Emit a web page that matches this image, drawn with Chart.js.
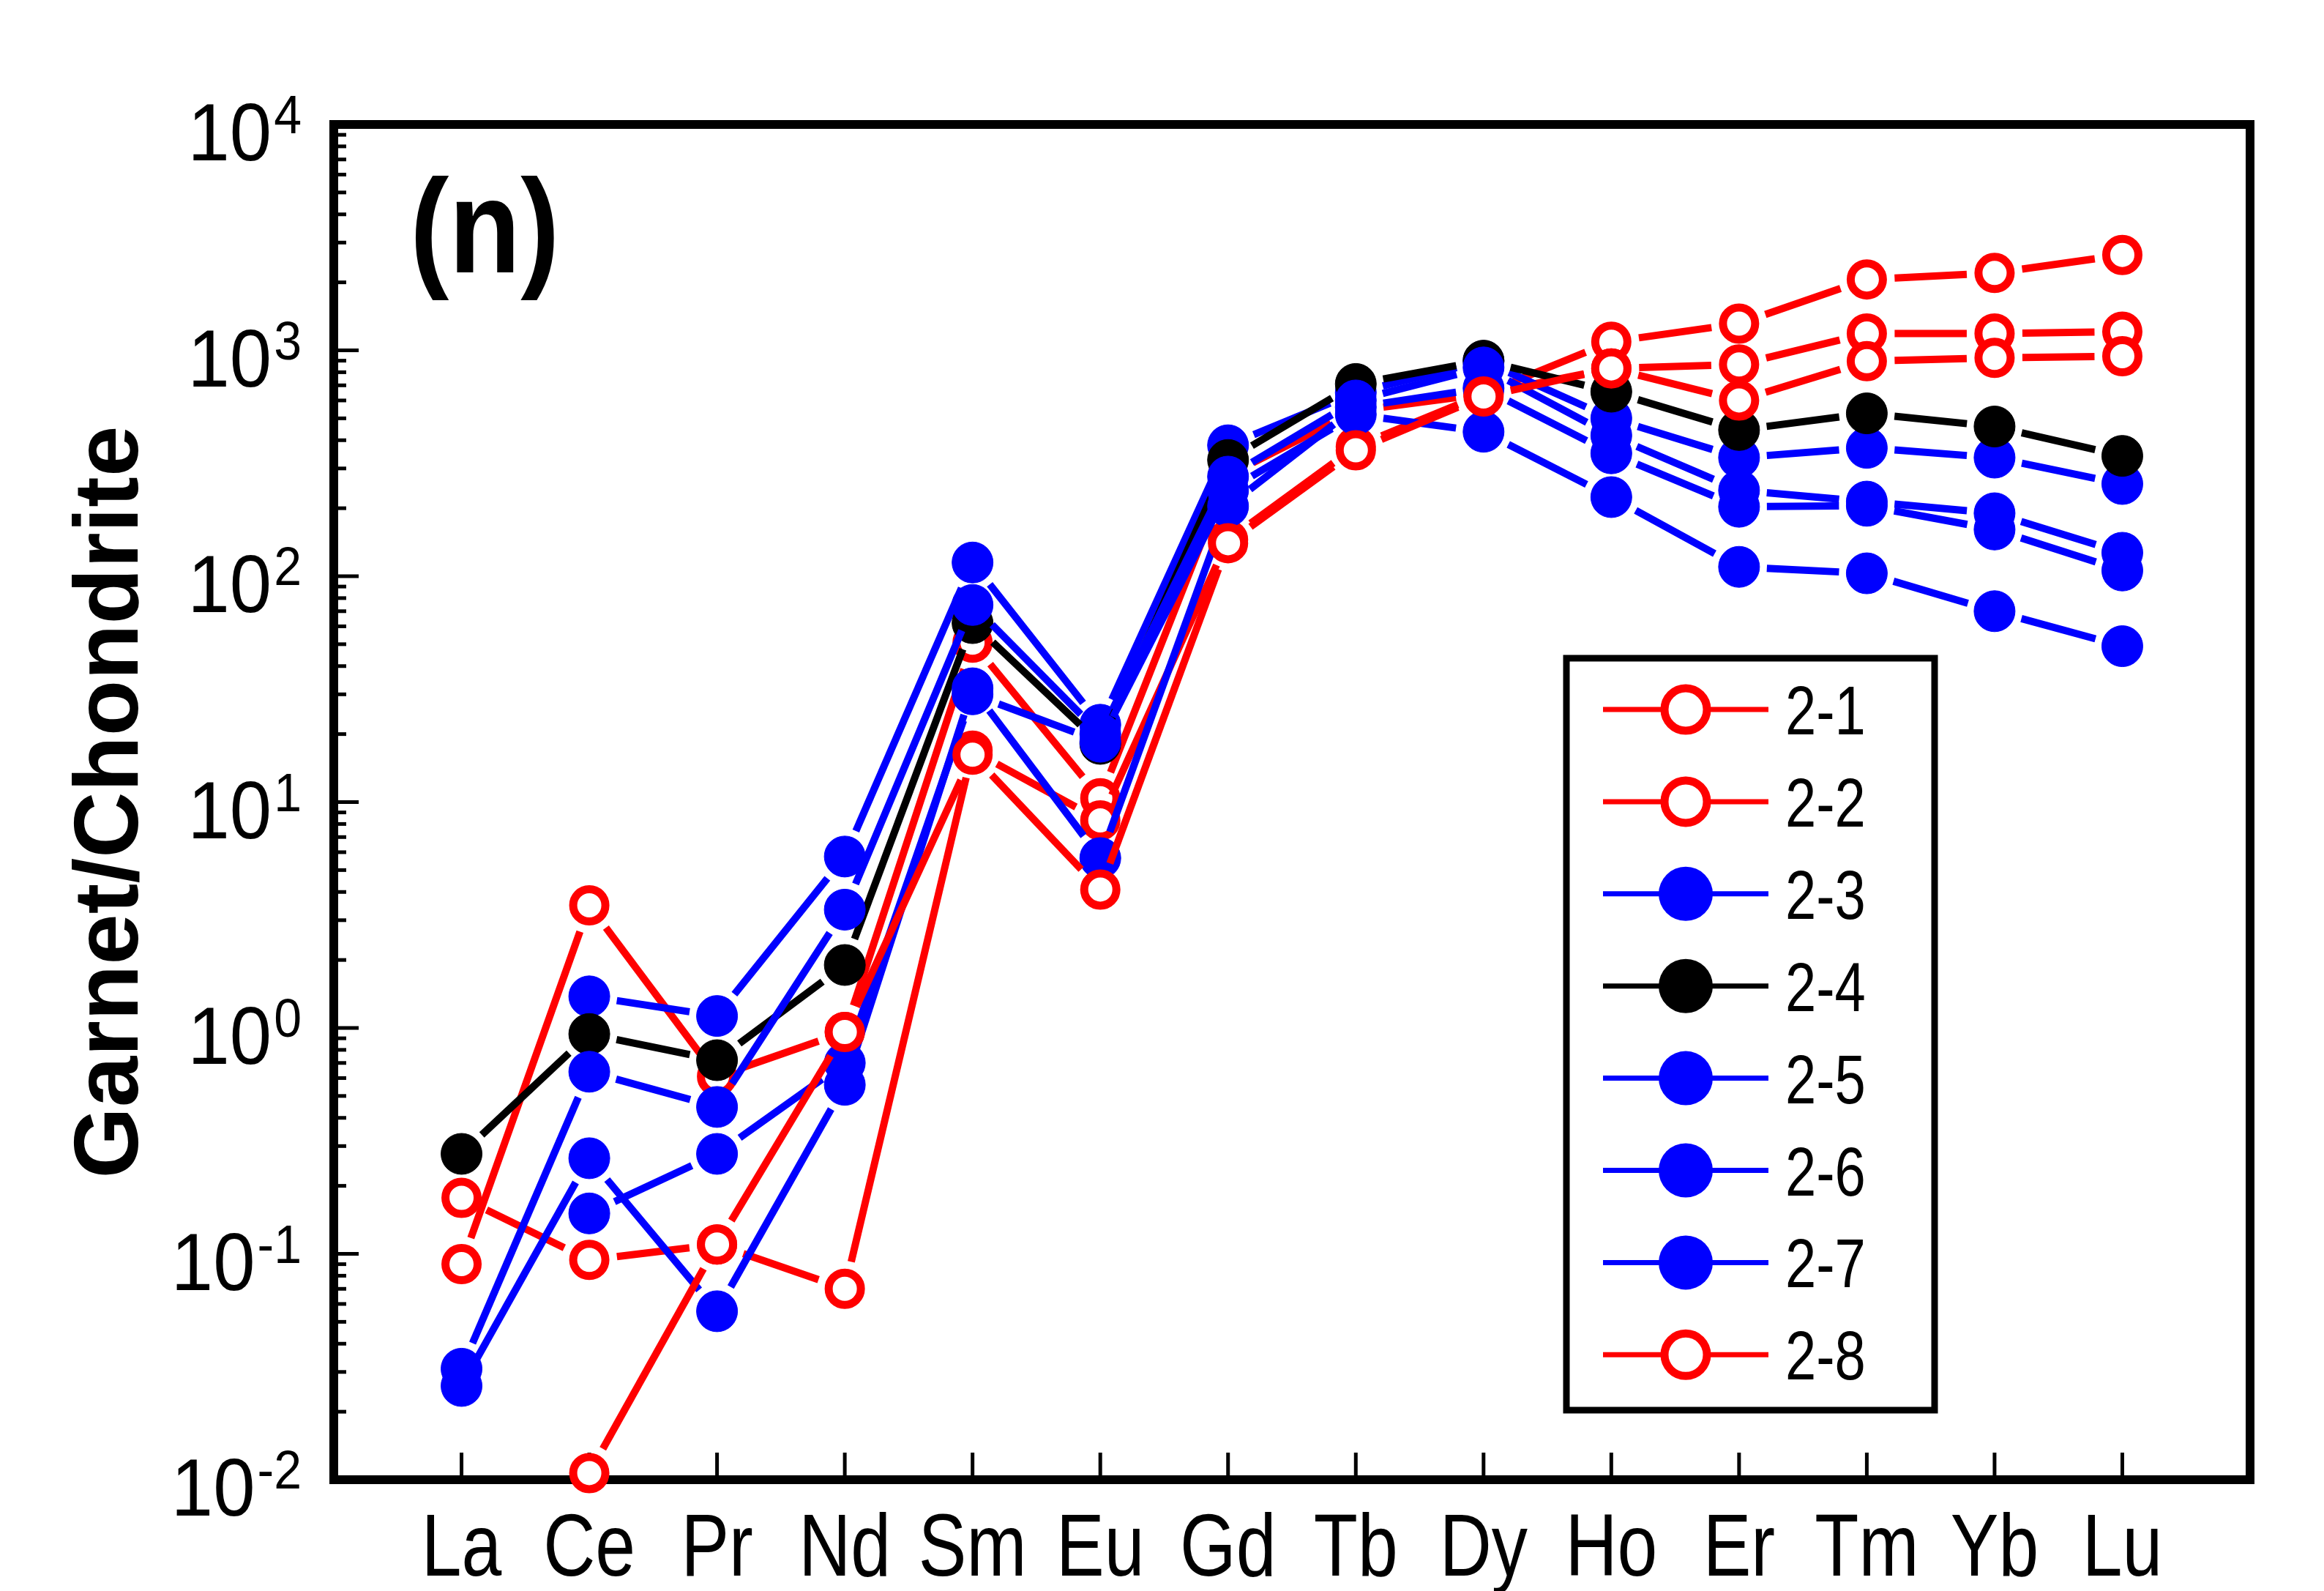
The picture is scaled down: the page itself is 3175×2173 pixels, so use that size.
<!DOCTYPE html>
<html>
<head>
<meta charset="utf-8">
<style>
  html, body { margin: 0; padding: 0; background: #fff; }
  #wrap { width: 3175px; height: 2173px; }
</style>
<script src="https://cdn.jsdelivr.net/npm/chart.js@4.4.1/dist/chart.umd.min.js"></script>
</head>
<body>
<div id="wrap"><canvas id="chart" width="3175" height="2173"></canvas></div>
<script>
/* global Chart */
// REE pattern, garnet normalised to chondrite
const elements = ['La', 'Ce', 'Pr', 'Nd', 'Sm', 'Eu', 'Gd', 'Tb', 'Dy', 'Ho', 'Er', 'Tm', 'Yb', 'Lu'];
const seriesNames = ['2-1', '2-2', '2-3', '2-4', '2-5', '2-6', '2-7', '2-8'];

const s21 = [0.09, 3.49, 0.61, 0.96, 50.8, 10.4, 280, 540, 641, 1092, 1313, 2060, 2200, 2645];
const s22 = [0.177, 0.094, 0.11, 0.07, 16.9, 8.3, 145, 375, 641, 832, 866, 1188, 1188, 1210];
const s23 = [null, 1.38, 1.13, 5.74, 115, 22, 380, 650, 897, 500, 335, 370, 335, 256];
const s24 = [0.277, 0.94, 0.72, 1.9, 62, 18.1, 327, 710, 900, 656, 444, 526, 460, 341];
const s25 = [0.031, 0.64, 0.447, 3.34, 74.6, 20, 276, 600, 840, 420, 240, 214, 190, 127];
const s26 = [0.026, 0.265, 0.0557, 0.56, 31.9, 5.65, 204, 560, 680, 350, 203, 205, 161, 106];
const s27 = [null, 0.151, 0.277, 0.70, 30, 18.5, 240, 520, 436, 224, 110, 103, 70, 49];
const s28 = [null, 0.0107, 0.11, 0.96, 16.2, 4.1, 140, 361, 625, 832, 600, 895, 926, 942];

const yTickExponents = [4, 3, 2, 1, 0, -1, -2];

const seriesValues = [s21, s22, s23, s24, s25, s26, s27, s28];
const seriesColors = ['#ff0000', '#ff0000', '#0000ff', '#000000', '#0000ff', '#0000ff', '#0000ff', '#ff0000'];
const seriesOpen = [true, true, false, false, false, false, false, true];

(function init() {
  const FONT = '"Liberation Sans", Arial, Helvetica, sans-serif';
  const LINE_WIDTH = 10;
  const LINE_GAP = 38;

  function squeezedText(ctx, text, x, y, font, sx, align) {
    ctx.save();
    ctx.font = font;
    ctx.translate(x, y);
    ctx.scale(sx, 1);
    ctx.textAlign = align || 'left';
    ctx.textBaseline = 'alphabetic';
    ctx.fillText(text, 0, 0);
    ctx.restore();
  }

  function marker(ctx, x, y, color, open, r) {
    ctx.save();
    ctx.beginPath();
    ctx.arc(x, y, r, 0, Math.PI * 2);
    if (open) {
      ctx.fillStyle = '#fff';
      ctx.fill();
      ctx.lineWidth = 11;
      ctx.strokeStyle = color;
      ctx.stroke();
    } else {
      ctx.fillStyle = color;
      ctx.fill();
    }
    ctx.restore();
  }

  // lines stop short of the symbols, like the original plot
  const gapLines = {
    id: 'gapLines',
    beforeDatasetDraw(chart, args) {
      const { ctx } = chart;
      const pts = args.meta.data;
      ctx.save();
      ctx.strokeStyle = seriesColors[args.index];
      ctx.lineWidth = LINE_WIDTH;
      for (let i = 0; i < pts.length - 1; i++) {
        const a = pts[i];
        const b = pts[i + 1];
        if (a.skip || b.skip) continue;
        const dx = b.x - a.x;
        const dy = b.y - a.y;
        const len = Math.hypot(dx, dy);
        if (len <= 2 * LINE_GAP) continue;
        const ux = dx / len;
        const uy = dy / len;
        ctx.beginPath();
        ctx.moveTo(a.x + ux * LINE_GAP, a.y + uy * LINE_GAP);
        ctx.lineTo(b.x - ux * LINE_GAP, b.y - uy * LINE_GAP);
        ctx.stroke();
      }
      ctx.restore();
    },
  };

  const frame = {
    id: 'frame',
    beforeDatasetsDraw(chart) {
      const { ctx, chartArea: a } = chart;
      const xs = chart.scales.x;
      const ys = chart.scales.y;
      ctx.save();
      ctx.fillStyle = '#000';
      ctx.strokeStyle = '#000';

      // y ticks, inward on the left axis
      ctx.lineWidth = 5;
      for (let e = -2; e <= 4; e++) {
        for (let m = 1; m <= 9; m++) {
          const v = m * Math.pow(10, e);
          if (v > 10000) break;
          const y = ys.getPixelForValue(v);
          const len = m === 1 ? 34 : 17;
          ctx.beginPath();
          ctx.moveTo(a.left, y);
          ctx.lineTo(a.left + len, y);
          ctx.stroke();
        }
      }

      // x ticks, inward on the bottom axis
      elements.forEach((name, i) => {
        const x = xs.getPixelForValue(i);
        ctx.beginPath();
        ctx.moveTo(x, a.bottom);
        ctx.lineTo(x, a.bottom - 37);
        ctx.stroke();
        squeezedText(ctx, name, x, 2152, `120px ${FONT}`, 0.82, 'center');
      });

      // y tick labels 10^n
      const right = 412;
      yTickExponents.forEach((e) => {
        const y = ys.getPixelForValue(Math.pow(10, e));
        const expText = String(e);
        ctx.font = `74px ${FONT}`;
        const ew = ctx.measureText(expText).width * 0.92;
        squeezedText(ctx, expText, right, y + 12, `74px ${FONT}`, 0.92, 'right');
        squeezedText(ctx, '10', right - ew - 3, y + 49, `112px ${FONT}`, 0.92, 'right');
      });

      ctx.lineWidth = 12;
      ctx.strokeRect(a.left, a.top, a.right - a.left, a.bottom - a.top);

      // axis title
      ctx.save();
      ctx.translate(188, (a.top + a.bottom) / 2);
      ctx.rotate(-Math.PI / 2);
      ctx.font = `bold 125px ${FONT}`;
      ctx.textAlign = 'center';
      ctx.fillText('Garnet/Chondrite', 0, 0);
      ctx.restore();

      squeezedText(ctx, '(n)', 560, 372, `bold 182px ${FONT}`, 0.88, 'left');
      ctx.restore();
    },
  };

  const legendBox = {
    id: 'legendBox',
    afterDraw(chart) {
      const { ctx } = chart;
      const box = { left: 2140, top: 899, right: 2643, bottom: 1926 };
      ctx.save();
      ctx.fillStyle = '#fff';
      ctx.fillRect(box.left, box.top, box.right - box.left, box.bottom - box.top);
      ctx.lineWidth = 9;
      ctx.strokeStyle = '#000';
      ctx.strokeRect(box.left, box.top, box.right - box.left, box.bottom - box.top);
      seriesNames.forEach((name, i) => {
        const y = 969 + i * 125.9;
        ctx.strokeStyle = seriesColors[i];
        ctx.lineWidth = 7;
        ctx.beginPath();
        ctx.moveTo(2190, y);
        ctx.lineTo(2416, y);
        ctx.stroke();
        marker(ctx, 2303, y, seriesColors[i], seriesOpen[i], seriesOpen[i] ? 29 : 37);
        ctx.fillStyle = '#000';
        squeezedText(ctx, name, 2439, y + 34, `95px ${FONT}`, 0.8, 'left');
      });
      ctx.restore();
    },
  };

  const datasets = seriesValues.map((values, i) => ({
    label: seriesNames[i],
    data: values.map((v, k) => ({ x: k, y: v })),
    showLine: false,
    clip: false,
    order: seriesValues.length - i,
    pointStyle: 'circle',
    pointRadius: seriesOpen[i] ? 22 : 28,
    pointBorderWidth: seriesOpen[i] ? 11 : 1,
    pointBackgroundColor: seriesOpen[i] ? '#ffffff' : seriesColors[i],
    pointBorderColor: seriesColors[i],
  }));

  new Chart(document.getElementById('chart'), {
    type: 'line',
    data: { datasets },
    options: {
      responsive: false,
      devicePixelRatio: 1,
      animation: false,
      events: [],
      layout: { padding: { left: 456, right: 101, top: 170, bottom: 152 } },
      plugins: { legend: { display: false }, tooltip: { enabled: false } },
      scales: {
        x: { type: 'linear', min: -1, max: 14, display: false },
        y: { type: 'logarithmic', min: 0.01, max: 10000, display: false },
      },
    },
    plugins: [gapLines, frame, legendBox],
  });
})();
</script>
</body>
</html>
